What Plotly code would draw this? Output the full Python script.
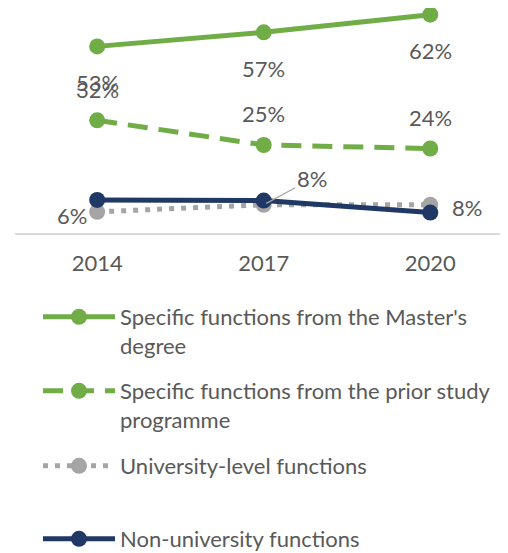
import plotly.graph_objects as go

years = [2014, 2017, 2020]
series_names = [
    "Specific functions from the Master's<br>degree",
    "Specific functions from the prior study<br>programme",
    "University-level functions",
    "Non-university functions",
]
masters = [53, 57, 62]
prior = [32, 25, 24]
university = [6, 8, 8]
non_university = [9.4, 9.2, 5.8]

GREEN = "#70AD47"
NAVY = "#1F3864"
GRAY = "#A5A5A5"
TEXT = "#595959"
FONT = "Lato"
FS = 22
W, H = 500, 545

fig = go.Figure()
styles = [
    (masters, GREEN, "solid", "legend"),
    (prior, GREEN, "20px,11px", "legend2"),
    (university, GRAY, "5px,7px", "legend3"),
    (non_university, NAVY, "solid", "legend4"),
]
for name, (vals, col, dash, lg) in zip(series_names, styles):
    fig.add_trace(go.Scatter(
        x=years, y=vals, name=name, mode="lines+markers",
        line=dict(color=col, width=5, dash=dash),
        marker=dict(color=col, size=16),
        legend=lg, hoverinfo="skip",
    ))

ann = []
for x, v in zip(years, masters):
    ann.append(dict(x=x, y=v, text=f"{v}%", showarrow=False, yshift=-36))
for x, v in zip(years, prior):
    ann.append(dict(x=x, y=v, text=f"{v}%", showarrow=False, yshift=31))
ann.append(dict(x=years[0], y=university[0], text=f"{university[0]}%", showarrow=False, xshift=-25, yshift=-4))
ann.append(dict(x=years[1], y=university[1], text=f"{university[1]}%", showarrow=True,
                arrowhead=0, arrowwidth=1.2, arrowcolor="#A6A6A6", ax=48, ay=-26, standoff=3))
ann.append(dict(x=years[2], y=university[2], text=f"{university[2]}%", showarrow=False, xshift=37, yshift=-3))
for a in ann:
    a["font"] = dict(family=FONT, size=FS, color=TEXT)
    a["xref"] = "x"
    a["yref"] = "y"

def lg(py):
    return dict(xref="container", yref="container", x=30 / W, xanchor="left",
                y=1 - py / H, yanchor="top", valign="top",
                font=dict(family=FONT, size=FS, color=TEXT), itemwidth=72,
                bgcolor="rgba(0,0,0,0)", tracegroupgap=0, borderwidth=0)

fig.update_layout(
    width=W, height=H,
    margin=dict(l=7, r=0, t=0, b=320, autoexpand=False),
    paper_bgcolor="white", plot_bgcolor="white",
    showlegend=True,
    legend=lg(288),
    legend2=lg(362),
    legend3=lg(437),
    legend4=lg(510),
    xaxis=dict(range=[2012.52, 2021.40], tickvals=years, showline=True, linecolor="#D9D9D9",
               linewidth=1.5, showgrid=False, zeroline=False, ticks="",
               tickfont=dict(family=FONT, size=FS, color=TEXT), ticklabelstandoff=10),
    yaxis=dict(range=[0, 63.9], showticklabels=False, showline=False, ticks="",
               showgrid=False, zeroline=False),
    annotations=ann,
)
fig.write_html("out.html")
